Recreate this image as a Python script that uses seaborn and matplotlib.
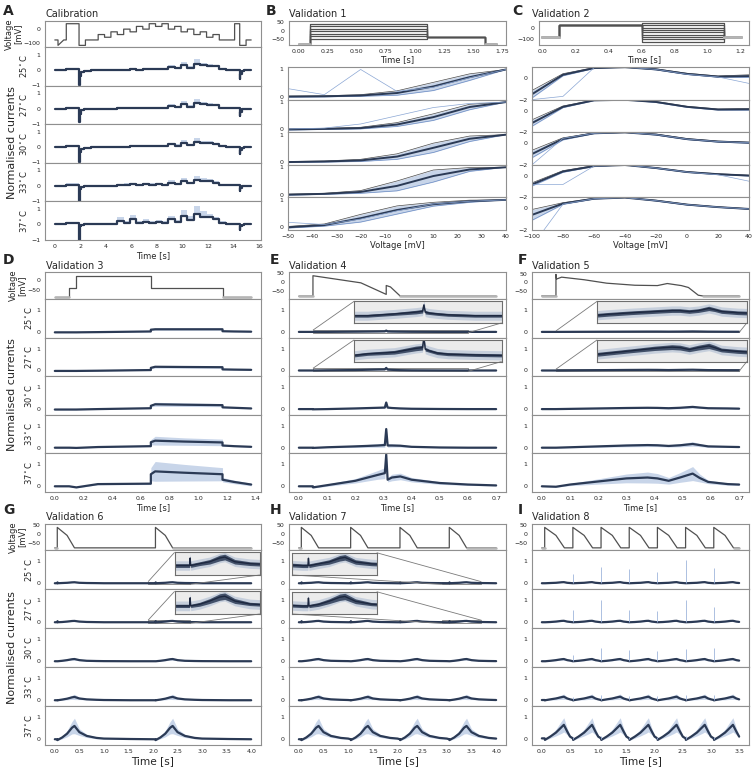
import matplotlib
matplotlib.use("Agg")
import matplotlib.pyplot as plt
import seaborn as sns
from mpl_toolkits.axes_grid1.inset_locator import mark_inset

# ---------------------------------------------------------------- data
TEMPS = [25, 27, 30, 33, 37]
TEMP_LABELS = ["25$^\\circ$C", "27$^\\circ$C", "30$^\\circ$C", "33$^\\circ$C", "37$^\\circ$C"]

# A: calibration staircase
A_PROTO_T = [0.0, 0.25, 0.25, 0.7, 0.9, 0.9, 1.9, 1.9, 2.4, 2.4,
             3.4, 3.4, 3.9, 3.9, 4.4, 4.4, 4.9, 4.9, 5.4, 5.4, 5.9, 5.9, 6.4, 6.4,
             6.9, 6.9, 7.4, 7.4, 7.9, 7.9, 8.4, 8.4, 8.9, 8.9, 9.4, 9.4, 9.9, 9.9,
             10.4, 10.4, 10.9, 10.9, 11.4, 11.4, 11.9, 11.9, 12.4, 12.4, 12.9, 12.9,
             14.1, 14.1, 14.5, 14.5, 15.0, 15.0, 15.4]
A_PROTO_V = [-80, -80, -120, -80, -80, 40, 40, -120, -120, -80,
             -80, -40, -40, -60, -60, -20, -20, -40, -40, 0, 0, -20, -20, 20,
             20, 0, 0, 40, 40, 20, 20, 40, 40, 0, 0, 20, 20, -20,
             -20, 0, 0, -40, -40, -20, -20, -60, -60, -40, -40, -80,
             -80, 40, 40, -120, -120, -80, -80]
A_T = [0.0, 0.9, 1.9, 1.95, 2.05, 2.3, 2.8, 4.9, 5.4, 5.9, 6.4, 6.9, 7.4, 7.9, 8.4,
       8.9, 9.4, 9.9, 10.4, 10.9, 11.4, 11.9, 12.4, 12.9, 13.4, 14.5, 14.55, 14.65, 14.8, 15.4]
A_MID = {
    25: [0.0, 0.05, -0.95, -0.4, -0.15, -0.04, 0.0, 0.01, 0.02, 0.04, 0.03, 0.05, 0.04, 0.06, 0.05,
         0.2, 0.1, 0.32, 0.12, 0.4, 0.3, 0.28, 0.26, 0.06, 0.02, -0.6, -0.25, -0.08, 0.0, 0.0],
    27: [0.0, 0.05, -0.9, -0.35, -0.12, -0.03, 0.0, 0.01, 0.03, 0.05, 0.04, 0.06, 0.05, 0.07, 0.06,
         0.2, 0.1, 0.3, 0.12, 0.38, 0.28, 0.26, 0.22, 0.06, 0.02, -0.5, -0.2, -0.06, 0.0, 0.0],
    30: [0.0, 0.05, -0.95, -0.3, -0.1, -0.03, 0.0, 0.02, 0.04, 0.06, 0.05, 0.08, 0.06, 0.09, 0.07,
         0.18, 0.1, 0.28, 0.12, 0.36, 0.27, 0.25, 0.2, 0.06, 0.02, -0.45, -0.2, -0.06, 0.0, 0.0],
    33: [0.0, 0.08, -1.0, -0.2, -0.06, -0.02, 0.0, 0.04, 0.08, 0.12, 0.08, 0.1, 0.08, 0.1, 0.08,
         0.2, 0.12, 0.3, 0.15, 0.4, 0.3, 0.28, 0.2, 0.08, 0.03, -0.35, -0.12, -0.03, 0.0, 0.0],
    37: [0.0, 0.08, -1.0, -0.1, -0.03, 0.0, 0.02, 0.25, 0.12, 0.38, 0.12, 0.18, 0.12, 0.18, 0.12,
         0.35, 0.15, 0.55, 0.3, 0.7, 0.5, 0.45, 0.32, 0.12, 0.02, -0.35, -0.1, -0.02, 0.0, 0.0],
}
A_HI = {
    25: [0.02, 0.1, -0.7, -0.2, -0.05, 0.0, 0.03, 0.04, 0.06, 0.08, 0.06, 0.1, 0.08, 0.12, 0.1,
         0.3, 0.18, 0.55, 0.25, 0.7, 0.45, 0.4, 0.35, 0.1, 0.05, -0.3, -0.1, -0.02, 0.02, 0.02],
    27: [0.02, 0.1, -0.6, -0.15, -0.04, 0.0, 0.03, 0.04, 0.07, 0.09, 0.07, 0.1, 0.08, 0.12, 0.1,
         0.32, 0.18, 0.5, 0.22, 0.62, 0.42, 0.38, 0.32, 0.1, 0.05, -0.25, -0.08, -0.02, 0.02, 0.02],
    30: [0.02, 0.1, -0.6, -0.12, -0.03, 0.0, 0.03, 0.05, 0.08, 0.1, 0.08, 0.14, 0.1, 0.15, 0.12,
         0.3, 0.2, 0.45, 0.22, 0.6, 0.42, 0.38, 0.3, 0.1, 0.05, -0.2, -0.08, -0.02, 0.02, 0.02],
    33: [0.02, 0.15, -0.6, -0.08, -0.02, 0.01, 0.03, 0.1, 0.15, 0.2, 0.14, 0.18, 0.15, 0.18, 0.14,
         0.35, 0.2, 0.5, 0.25, 0.65, 0.5, 0.42, 0.32, 0.12, 0.05, -0.1, -0.04, 0.0, 0.02, 0.02],
    37: [0.02, 0.18, -0.6, -0.02, 0.0, 0.02, 0.06, 0.5, 0.22, 0.62, 0.22, 0.32, 0.22, 0.3, 0.22,
         0.55, 0.3, 0.95, 0.55, 1.2, 0.85, 0.65, 0.45, 0.2, 0.05, -0.1, -0.02, 0.0, 0.02, 0.02],
}

# B: validation 1 (activation I-V)
B_LEVELS = [-50, -35, -20, -5, 10, 25, 40]
B_PROTO_T = [0.0, 0.1, 0.1, 1.1, 1.1, 1.6, 1.6, 1.7]
B_MID = {
    25: [0.01, 0.02, 0.05, 0.14, 0.38, 0.72, 1.0],
    27: [0.0, 0.02, 0.05, 0.18, 0.45, 0.82, 1.0],
    30: [0.0, 0.02, 0.06, 0.2, 0.52, 0.85, 1.0],
    33: [0.0, 0.03, 0.1, 0.32, 0.68, 0.92, 1.0],
    37: [0.0, 0.08, 0.33, 0.63, 0.84, 0.95, 1.0],
}
B_SPREAD = {
    25: [0.02, 0.02, 0.03, 0.08, 0.15, 0.12, 0.0],
    27: [0.02, 0.02, 0.03, 0.07, 0.12, 0.1, 0.0],
    30: [0.02, 0.02, 0.04, 0.1, 0.17, 0.1, 0.0],
    33: [0.02, 0.02, 0.05, 0.18, 0.22, 0.07, 0.0],
    37: [0.03, 0.04, 0.14, 0.15, 0.07, 0.04, 0.0],
}
B_ODD = {
    25: [0.3, 0.08, 1.0, 0.2, 0.35, 0.7, 1.0],
    27: [0.02, 0.05, 0.2, 0.5, 0.8, 0.95, 1.0],
    37: [0.18, 0.1, 0.3, 0.6, 0.85, 0.95, 1.0],
}

# C: validation 2 (inactivation I-V)
C_LEVELS = [-120, -100, -80, -60, -40, -20, 0, 20, 40]
C_PROTO_T = [0.0, 0.1, 0.1, 0.6, 0.6, 1.1, 1.1, 1.2]
C_MID = {
    25: [-3.5, -1.5, 0.3, 0.92, 1.0, 0.8, 0.38, 0.13, 0.18],
    27: [-3.0, -1.15, 0.35, 0.95, 1.0, 0.8, 0.35, 0.1, 0.12],
    30: [-2.8, -1.0, 0.4, 0.92, 1.0, 0.8, 0.38, 0.15, 0.05],
    33: [-2.5, -0.8, 0.4, 0.9, 1.0, 0.72, 0.35, 0.15, 0.02],
    37: [-2.2, -0.6, 0.45, 0.9, 1.0, 0.72, 0.35, 0.12, -0.05],
}
C_SPREAD = {
    25: [0.8, 0.35, 0.1, 0.04, 0.0, 0.05, 0.06, 0.06, 0.12],
    27: [0.6, 0.3, 0.08, 0.03, 0.0, 0.05, 0.05, 0.05, 0.08],
    30: [0.6, 0.35, 0.1, 0.04, 0.0, 0.05, 0.05, 0.05, 0.05],
    33: [0.5, 0.15, 0.08, 0.04, 0.0, 0.04, 0.04, 0.04, 0.04],
    37: [2.0, 0.5, 0.08, 0.04, 0.0, 0.04, 0.04, 0.03, 0.03],
}
C_ODD = {
    25: [-4.0, -2.0, -1.7, 0.95, 1.0, 0.8, 0.35, 0.1, -0.5],
    30: [-4.0, -2.0, 0.45, 0.92, 1.0, 0.8, 0.38, 0.15, 0.05],
    33: [-3.0, -0.8, -0.8, 0.9, 1.0, 0.72, 0.35, 0.1, -0.5],
    37: [-6.0, -3.5, 0.4, 0.9, 1.0, 0.72, 0.35, 0.12, -0.05],
}

# D: validation 3
D_PROTO_T = [0.0, 0.1, 0.1, 0.15, 0.15, 0.67, 0.67, 1.17, 1.17, 1.37]
D_PROTO_V = [-80, -80, -40, -40, 20, 20, -40, -40, -80, -80]
D_T = [0.0, 0.1, 0.15, 0.3, 0.67, 0.67, 0.7, 0.9, 1.17, 1.17, 1.25, 1.37]
D_MID = {
    25: [-0.02, -0.02, -0.02, -0.01, 0.02, 0.1, 0.12, 0.12, 0.12, 0.03, 0.02, 0.01],
    27: [-0.02, -0.02, -0.02, -0.01, 0.02, 0.12, 0.17, 0.16, 0.15, 0.05, 0.04, 0.03],
    30: [-0.02, -0.02, -0.02, 0.0, 0.04, 0.15, 0.22, 0.2, 0.18, 0.08, 0.06, 0.03],
    33: [0.0, 0.0, -0.01, 0.03, 0.07, 0.25, 0.32, 0.28, 0.24, 0.1, 0.07, 0.04],
    37: [0.0, 0.0, -0.05, 0.1, 0.12, 0.55, 0.68, 0.62, 0.55, 0.3, 0.2, 0.08],
}
D_SPREAD = {
    25: [0.01, 0.01, 0.01, 0.01, 0.01, 0.03, 0.04, 0.04, 0.04, 0.01, 0.01, 0.01],
    27: [0.01, 0.01, 0.01, 0.01, 0.01, 0.04, 0.06, 0.05, 0.05, 0.015, 0.01, 0.01],
    30: [0.01, 0.01, 0.01, 0.01, 0.015, 0.05, 0.09, 0.08, 0.07, 0.02, 0.015, 0.01],
    33: [0.01, 0.01, 0.01, 0.015, 0.02, 0.12, 0.2, 0.17, 0.15, 0.03, 0.02, 0.015],
    37: [0.01, 0.01, 0.02, 0.03, 0.04, 0.3, 0.45, 0.38, 0.3, 0.1, 0.08, 0.06],
}

# E: validation 4
E_PROTO_T = [0.0, 0.05, 0.05, 0.22, 0.31, 0.31, 0.325, 0.36, 0.7]
E_PROTO_V = [-80, -80, 35, -5, -70, -20, -28, -80, -80]
E_T = [0.0, 0.05, 0.05, 0.1, 0.2, 0.28, 0.305, 0.31, 0.315, 0.33, 0.36, 0.4, 0.5, 0.6, 0.7]
E_MID = {
    25: [0.0, 0.0, 0.0, 0.0, 0.01, 0.02, 0.025, 0.06, 0.02, 0.015, 0.01, 0.005, 0.0, 0.0, 0.0],
    27: [0.0, 0.0, 0.0, 0.01, 0.02, 0.045, 0.05, 0.12, 0.04, 0.03, 0.015, 0.008, 0.003, 0.0, 0.0],
    30: [0.0, 0.0, -0.01, 0.0, 0.03, 0.06, 0.07, 0.3, 0.07, 0.05, 0.03, 0.015, 0.005, 0.0, 0.0],
    33: [0.0, 0.0, -0.01, 0.02, 0.06, 0.1, 0.12, 0.85, 0.1, 0.1, 0.09, 0.04, 0.01, 0.0, 0.0],
    37: [0.0, 0.0, -0.05, 0.05, 0.25, 0.52, 0.6, 1.45, 0.3, 0.4, 0.45, 0.3, 0.15, 0.08, 0.04],
}
E_SPREAD = {
    25: [0.008, 0.008, 0.008, 0.008, 0.008, 0.01, 0.01, 0.01, 0.01, 0.008, 0.008, 0.008, 0.008, 0.008, 0.008],
    27: [0.01, 0.01, 0.01, 0.01, 0.012, 0.015, 0.015, 0.015, 0.012, 0.01, 0.01, 0.01, 0.01, 0.01, 0.01],
    30: [0.01, 0.01, 0.01, 0.01, 0.02, 0.03, 0.03, 0.05, 0.03, 0.02, 0.02, 0.01, 0.01, 0.01, 0.01],
    33: [0.01, 0.01, 0.01, 0.02, 0.05, 0.08, 0.1, 0.1, 0.08, 0.07, 0.06, 0.03, 0.01, 0.01, 0.01],
    37: [0.01, 0.02, 0.03, 0.05, 0.1, 0.2, 0.25, 0.1, 0.1, 0.15, 0.15, 0.1, 0.06, 0.04, 0.02],
}

# F: validation 5
F_PROTO_T = [0.0, 0.05, 0.05, 0.052, 0.07, 0.15, 0.23, 0.33, 0.41, 0.445, 0.495, 0.52, 0.555, 0.57, 0.7]
F_PROTO_V = [-80, -80, 45, 18, 29, 14, -6, -18, -20, -8, -20, -31, -76, -80, -80]
F_T = [0.0, 0.05, 0.1, 0.2, 0.3, 0.375, 0.41, 0.45, 0.49, 0.535, 0.56, 0.59, 0.66, 0.7]
F_MID = {
    25: [0.0, 0.0, 0.003, 0.008, 0.012, 0.015, 0.015, 0.012, 0.015, 0.022, 0.018, 0.012, 0.008, 0.007],
    27: [0.0, 0.0, 0.005, 0.015, 0.025, 0.03, 0.028, 0.02, 0.028, 0.035, 0.028, 0.018, 0.012, 0.01],
    30: [0.0, 0.0, 0.01, 0.03, 0.05, 0.06, 0.055, 0.04, 0.06, 0.1, 0.07, 0.04, 0.03, 0.02],
    33: [0.0, 0.0, 0.02, 0.06, 0.1, 0.12, 0.11, 0.08, 0.11, 0.17, 0.12, 0.06, 0.04, 0.03],
    37: [0.0, -0.02, 0.08, 0.22, 0.36, 0.4, 0.36, 0.25, 0.4, 0.58, 0.38, 0.2, 0.1, 0.08],
}
F_SPREAD = {
    25: [0.006, 0.006, 0.006, 0.006, 0.006, 0.006, 0.006, 0.006, 0.006, 0.007, 0.006, 0.006, 0.006, 0.006],
    27: [0.008, 0.008, 0.008, 0.008, 0.009, 0.01, 0.01, 0.009, 0.01, 0.011, 0.01, 0.008, 0.008, 0.008],
    30: [0.005, 0.005, 0.01, 0.02, 0.03, 0.03, 0.03, 0.03, 0.04, 0.05, 0.04, 0.02, 0.015, 0.01],
    33: [0.005, 0.01, 0.02, 0.04, 0.06, 0.07, 0.06, 0.05, 0.07, 0.1, 0.07, 0.04, 0.02, 0.02],
    37: [0.01, 0.02, 0.05, 0.12, 0.2, 0.25, 0.22, 0.15, 0.22, 0.32, 0.18, 0.08, 0.05, 0.04],
}

AP_T = [0.0, 0.0, 0.2, 0.35]
AP_V = [-80, 35, -10, -80]
G_ONSETS = [0.05, 2.05]
H_ONSETS = [0.05, 1.05, 2.05, 3.05]
I_ONSETS = [0.05, 0.55, 1.05, 1.55, 2.05, 2.55, 3.05]
G_BEAT_T = [0.0, 0.005, 0.01, 0.1, 0.2, 0.3, 0.35, 0.45, 0.6, 0.8, 0.95, 1.5, 1.95]
G_MID = {
    25: [0.0, 0.04, 0.0, 0.01, 0.02, 0.04, 0.045, 0.02, 0.01, 0.005, 0.0, 0.0, 0.0],
    27: [0.0, 0.05, 0.0, 0.01, 0.03, 0.055, 0.06, 0.03, 0.012, 0.005, 0.0, 0.0, 0.0],
    30: [0.0, 0.0, 0.0, 0.02, 0.05, 0.09, 0.1, 0.05, 0.02, 0.01, 0.005, 0.0, 0.0],
    33: [0.0, -0.01, 0.0, 0.03, 0.07, 0.13, 0.15, 0.08, 0.04, 0.02, 0.01, 0.0, 0.0],
    37: [0.0, -0.04, -0.03, 0.08, 0.25, 0.52, 0.6, 0.32, 0.15, 0.06, 0.03, 0.01, 0.0],
}
G_SPREAD = {
    25: [0.01, 0.01, 0.01, 0.01, 0.012, 0.015, 0.015, 0.012, 0.01, 0.01, 0.01, 0.01, 0.01],
    27: [0.01, 0.01, 0.01, 0.012, 0.015, 0.02, 0.02, 0.015, 0.01, 0.01, 0.01, 0.01, 0.01],
    30: [0.01, 0.01, 0.01, 0.015, 0.025, 0.04, 0.05, 0.025, 0.015, 0.01, 0.01, 0.01, 0.01],
    33: [0.01, 0.01, 0.01, 0.02, 0.05, 0.09, 0.12, 0.05, 0.02, 0.01, 0.01, 0.01, 0.01],
    37: [0.01, 0.01, 0.02, 0.06, 0.14, 0.28, 0.35, 0.15, 0.07, 0.04, 0.02, 0.01, 0.01],
}
I_BEAT_T = [0.0, 0.005, 0.01, 0.1, 0.2, 0.3, 0.34, 0.4, 0.45]
I_MID = {
    25: [0.0, 0.0, 0.0, 0.01, 0.02, 0.045, 0.05, 0.02, 0.01],
    27: [0.0, 0.0, 0.0, 0.01, 0.03, 0.06, 0.065, 0.03, 0.015],
    30: [0.0, 0.0, 0.0, 0.02, 0.05, 0.09, 0.1, 0.05, 0.03],
    33: [0.01, -0.01, 0.0, 0.04, 0.08, 0.14, 0.16, 0.08, 0.04],
    37: [0.04, -0.03, -0.02, 0.12, 0.3, 0.55, 0.65, 0.35, 0.12],
}
I_SPREAD = {
    25: [0.01, 0.01, 0.01, 0.01, 0.012, 0.015, 0.015, 0.012, 0.01],
    27: [0.01, 0.01, 0.01, 0.012, 0.015, 0.02, 0.02, 0.015, 0.01],
    30: [0.01, 0.01, 0.01, 0.015, 0.025, 0.04, 0.05, 0.025, 0.015],
    33: [0.01, 0.01, 0.01, 0.03, 0.06, 0.1, 0.12, 0.05, 0.02],
    37: [0.02, 0.02, 0.02, 0.07, 0.15, 0.28, 0.32, 0.15, 0.06],
}
I_SPIKE_T = [0.55, 1.05, 1.55, 2.05, 2.55, 3.05]
I_SPIKE = {
    25: [0.4, 0.75, 0.65, 0.5, 1.05, 0.7],
    27: [0.55, 1.0, 0.55, 0.5, 1.0, 0.7],
    30: [0.3, 0.6, 0.5, 0.45, 0.55, 0.6],
    33: [0.15, 0.25, 0.2, 0.2, 0.25, 0.25],
    37: [0.1, 0.15, 0.1, 0.1, 0.15, 0.1],
}

# ---------------------------------------------------------------- style
sns.set_theme(style="white")
plt.rcParams["font.family"] = ["DejaVu Sans"]

SPINE = "#8f8f8f"
DARK = "#2b3a55"
BLUE = "#86a2cf"
PROTO = "#505050"
HOLD = "#b5b5b5"
FIG_W, FIG_H = 756, 770
COL = {1: (45, 261), 2: (289, 506), 3: (532, 749)}


def px_axes(fig, left, top, right, bottom):
    return fig.add_axes([left / FIG_W, 1 - bottom / FIG_H,
                         (right - left) / FIG_W, (bottom - top) / FIG_H])


def tidy(ax, yticks, ylim, xlim, xticks=None):
    ax.set_xlim(xlim)
    ax.set_ylim(ylim)
    ax.set_yticks(yticks)
    if xticks is None:
        ax.tick_params(axis="x", bottom=False, labelbottom=False)
    else:
        ax.set_xticks(xticks)
    ax.tick_params(labelsize=4.5, length=2, width=0.5, pad=1.2,
                   color=SPINE, labelcolor="#262626")
    for spine in ax.spines.values():
        spine.set_color(SPINE)
        spine.set_linewidth(0.8)
    ax.grid(False)


def line(ax, x, y, **kw):
    sns.lineplot(x=x, y=y, ax=ax, estimator=None, sort=False, legend=False, **kw)


def band(mid, spread):
    return [m - s for m, s in zip(mid, spread)], [m + s for m, s in zip(mid, spread)]


def draw_protocol(ax, t, v, hold=True):
    line(ax, t, v, color=PROTO, lw=0.9)
    if hold:
        line(ax, t[:2], v[:2], color=HOLD, lw=1.8)
        line(ax, t[-2:], v[-2:], color=HOLD, lw=1.8)


def ap_train(onsets, end):
    t, v = [0.0], [-80]
    for on in onsets:
        t += [on + a for a in AP_T]
        v += AP_V
    return t + [end], v + [-80]


def beat_train(onsets, end, beat_t, vals):
    t, y = [0.0], [vals[0]]
    for on in onsets:
        t += [on + b for b in beat_t]
        y += list(vals)
    return t + [end], y + [vals[-1]]


def trace_stack(fig, col, top, bottom, series, xlim, xticks, ylim, yticks,
                xlabel_size=6, steps=False, label_temps=False):
    left, right = COL[col]
    h = (bottom - top) / len(TEMPS)
    axes = []
    for i, temp in enumerate(TEMPS):
        t, lo, hi, mid = series[temp]
        ax = px_axes(fig, left, top + i * h, right, top + (i + 1) * h)
        ax.fill_between(t, lo, hi, color=BLUE, alpha=0.45, lw=0,
                        step="post" if steps else None)
        line(ax, t, mid, color=DARK, lw=1.6,
             drawstyle="steps-post" if steps else "default")
        last = i == len(TEMPS) - 1
        tidy(ax, yticks, ylim, xlim, xticks if last else None)
        if label_temps:
            ax.set_ylabel(TEMP_LABELS[i], fontsize=6, labelpad=2)
        if last:
            ax.set_xlabel("Time [s]", fontsize=xlabel_size, labelpad=1)
        axes.append(ax)
    return axes


def iv_stack(fig, left, right, top, bottom, volts, mids, spreads, odd,
             xlim, xticks, ylim, yticks):
    h = (bottom - top) / len(TEMPS)
    for i, temp in enumerate(TEMPS):
        ax = px_axes(fig, left, top + i * h, right, top + (i + 1) * h)
        lo, hi = band(mids[temp], spreads[temp])
        ax.fill_between(volts, lo, hi, color=BLUE, alpha=0.45, lw=0)
        line(ax, volts, lo, color="#6b8cc4", lw=0.5)
        line(ax, volts, hi, color="#4a4a4a", lw=0.5)
        line(ax, volts, mids[temp], color=DARK, lw=1.4)
        if temp in odd:
            line(ax, volts, odd[temp], color="#8aa6d4", lw=0.5)
        last = i == len(TEMPS) - 1
        tidy(ax, yticks, ylim, xlim, xticks if last else None)
        if last:
            ax.set_xlabel("Voltage [mV]", fontsize=6, labelpad=1)


def zoom_inset(ax, rect, t, mid, spread, noise, xlim, ylim, locs):
    ins = ax.inset_axes(rect)
    ins.set_facecolor("#ececec")
    lo_n, hi_n = band(mid, [noise] * len(mid))
    ins.fill_between(t, lo_n, hi_n, color="#b7c3d6", alpha=0.7, lw=0)
    lo, hi = band(mid, spread)
    ins.fill_between(t, lo, hi, color=DARK, alpha=0.85, lw=0)
    line(ins, t, mid, color="#1d2840", lw=1.0)
    ins.set_xlim(xlim)
    ins.set_ylim(ylim)
    ins.set_xticks([])
    ins.set_yticks([])
    ins.grid(False)
    for spine in ins.spines.values():
        spine.set_color("#6e6e6e")
        spine.set_linewidth(0.8)
    mark_inset(ax, ins, loc1=locs[0], loc2=locs[1], fc="none", ec="#7a7a7a", lw=0.6)


def sym_series(t, mids, spreads):
    out = {}
    for temp in TEMPS:
        lo, hi = band(mids[temp], spreads[temp])
        out[temp] = (t, lo, hi, mids[temp])
    return out


def train_series(onsets, end, beat_t, mids, spreads):
    out = {}
    for temp in TEMPS:
        t, mid = beat_train(onsets, end, beat_t, mids[temp])
        _, spr = beat_train(onsets, end, beat_t, spreads[temp])
        lo, hi = band(mid, spr)
        out[temp] = (t, lo, hi, mid)
    return out


fig = plt.figure(figsize=(7.56, 7.70), dpi=100)
CUR_TICKS = [0, 1]
CUR_LIM = (-0.26, 1.5)

# ---- A
A_XLIM = (-0.77, 16.17)
ax = px_axes(fig, 45, 21, 261, 47)
draw_protocol(ax, A_PROTO_T, A_PROTO_V, hold=False)
tidy(ax, [0, -100], (-132, 60), A_XLIM)
ax.set_ylabel("Voltage\n[mV]", fontsize=6, labelpad=1, linespacing=0.95)
a_series = {temp: (A_T, A_MID[temp], A_HI[temp], A_MID[temp]) for temp in TEMPS}
trace_stack(fig, 1, 47, 240, a_series, A_XLIM, list(range(0, 17, 2)),
            (-1.02, 1.5), [-1, 0, 1], steps=True, label_temps=True)

# ---- B
ax = px_axes(fig, 289, 21, 506, 45)
for level in B_LEVELS:
    draw_protocol(ax, B_PROTO_T, [-80, -80, level, level, -40, -40, -80, -80])
tidy(ax, [50, 0, -50], (-88, 58), (-0.085, 1.785),
     [0.0, 0.25, 0.5, 0.75, 1.0, 1.25, 1.5, 1.75])
ax.set_xlabel("Time [s]", fontsize=6, labelpad=0.5)
iv_stack(fig, 288, 506, 67, 230, B_LEVELS, B_MID, B_SPREAD, B_ODD,
         (-50, 40), list(range(-50, 41, 10)), (-0.1, 1.09), [0, 1])

# ---- C
ax = px_axes(fig, 539, 21, 749, 45)
for level in C_LEVELS:
    draw_protocol(ax, C_PROTO_T, [-80, -80, 20, 20, level, level, -80, -80])
tidy(ax, [0, -100], (-148, 55), (-0.02, 1.25), [0.0, 0.2, 0.4, 0.6, 0.8, 1.0, 1.2])
ax.set_xlabel("Time [s]", fontsize=6, labelpad=0.5)
iv_stack(fig, 532, 749, 67, 230, C_LEVELS, C_MID, C_SPREAD, C_ODD,
         (-100, 40), list(range(-100, 41, 20)), (-2.0, 1.02), [0, -2])

# ---- D
D_XLIM = (-0.0685, 1.4385)
ax = px_axes(fig, 45, 272, 261, 299)
draw_protocol(ax, D_PROTO_T, D_PROTO_V)
tidy(ax, [0, -50], (-92, 39), D_XLIM)
ax.set_ylabel("Voltage\n[mV]", fontsize=6, labelpad=1, linespacing=0.95)
trace_stack(fig, 1, 299, 492, sym_series(D_T, D_MID, D_SPREAD), D_XLIM,
            [0.0, 0.2, 0.4, 0.6, 0.8, 1.0, 1.2, 1.4], CUR_LIM, CUR_TICKS, label_temps=True)

# ---- E
EF_XLIM = (-0.035, 0.735)
EF_TICKS = [0.0, 0.1, 0.2, 0.3, 0.4, 0.5, 0.6, 0.7]
ax = px_axes(fig, 289, 272, 506, 299)
draw_protocol(ax, E_PROTO_T, E_PROTO_V)
tidy(ax, [50, 0, -50], (-96, 56), EF_XLIM)
e_axes = trace_stack(fig, 2, 299, 492, sym_series(E_T, E_MID, E_SPREAD), EF_XLIM,
                     EF_TICKS, CUR_LIM, CUR_TICKS)
zoom_inset(e_axes[0], [0.30, 0.38, 0.68, 0.56], E_T, E_MID[25], E_SPREAD[25], 0.025,
           (0.05, 0.6), (-0.04, 0.08), (2, 4))
zoom_inset(e_axes[1], [0.30, 0.38, 0.68, 0.56], E_T, E_MID[27], E_SPREAD[27], 0.03,
           (0.05, 0.6), (-0.04, 0.1), (2, 4))

# ---- F
ax = px_axes(fig, 532, 272, 749, 299)
draw_protocol(ax, F_PROTO_T, F_PROTO_V)
tidy(ax, [50, 0, -50], (-98, 59), EF_XLIM)
f_axes = trace_stack(fig, 3, 299, 492, sym_series(F_T, F_MID, F_SPREAD), EF_XLIM,
                     EF_TICKS, CUR_LIM, CUR_TICKS)
zoom_inset(f_axes[0], [0.30, 0.38, 0.69, 0.56], F_T, F_MID[25], F_SPREAD[25], 0.015,
           (0.05, 0.7), (-0.025, 0.045), (2, 4))
zoom_inset(f_axes[1], [0.30, 0.38, 0.69, 0.56], F_T, F_MID[27], F_SPREAD[27], 0.02,
           (0.05, 0.7), (-0.03, 0.06), (2, 4))

# ---- G
GH_XLIM = (-0.2, 4.2)
GH_TICKS = [0.0, 0.5, 1.0, 1.5, 2.0, 2.5, 3.0, 3.5, 4.0]
ax = px_axes(fig, 45, 524, 261, 550)
pt, pv = ap_train(G_ONSETS, 4.0)
draw_protocol(ax, pt, pv)
tidy(ax, [50, 0, -50], (-92, 54), GH_XLIM)
ax.set_ylabel("Voltage\n[mV]", fontsize=6, labelpad=1, linespacing=0.95)
g_series = train_series(G_ONSETS, 4.0, G_BEAT_T, G_MID, G_SPREAD)
g_axes = trace_stack(fig, 1, 550, 745, g_series, GH_XLIM, GH_TICKS, CUR_LIM, CUR_TICKS,
                     xlabel_size=7.6, label_temps=True)
for k, temp in enumerate([25, 27]):
    t, lo, hi, mid = g_series[temp]
    spr = [h - m for h, m in zip(hi, mid)]
    zoom_inset(g_axes[k], [0.60, 0.36, 0.395, 0.58], t, mid, spr, 0.025 + 0.005 * k,
               (1.9, 2.75), (-0.05, 0.07 + 0.02 * k), (2, 4))

# ---- H
ax = px_axes(fig, 289, 524, 506, 550)
pt, pv = ap_train(H_ONSETS, 4.0)
draw_protocol(ax, pt, pv)
tidy(ax, [50, 0, -50], (-92, 54), GH_XLIM)
h_mid = {temp: G_MID[temp][:11] for temp in TEMPS}
h_spr = {temp: G_SPREAD[temp][:11] for temp in TEMPS}
h_series = train_series(H_ONSETS, 4.0, G_BEAT_T[:11], h_mid, h_spr)
h_axes = trace_stack(fig, 2, 550, 745, h_series, GH_XLIM, GH_TICKS, CUR_LIM, CUR_TICKS,
                     xlabel_size=7.6)
for k, temp in enumerate([25, 27]):
    t, lo, hi, mid = h_series[temp]
    spr = [h - m for h, m in zip(hi, mid)]
    zoom_inset(h_axes[k], [0.014, 0.36, 0.39, 0.57], t, mid, spr, 0.025 + 0.005 * k,
               (2.9, 3.7), (-0.05, 0.07 + 0.02 * k), (1, 3))

# ---- I
I_XLIM = (-0.175, 3.675)
ax = px_axes(fig, 532, 524, 749, 550)
pt, pv = ap_train(I_ONSETS, 3.5)
draw_protocol(ax, pt, pv)
tidy(ax, [50, 0, -50], (-92, 54), I_XLIM)
i_series = train_series(I_ONSETS, 3.5, I_BEAT_T, I_MID, I_SPREAD)
i_axes = trace_stack(fig, 3, 550, 745, i_series, I_XLIM,
                     [0.0, 0.5, 1.0, 1.5, 2.0, 2.5, 3.0, 3.5], CUR_LIM, CUR_TICKS,
                     xlabel_size=7.6)
for ax, temp in zip(i_axes, TEMPS):
    ax.vlines(I_SPIKE_T, 0, I_SPIKE[temp], color="#9fb5dc", lw=0.6)

# ---- labels
for letter, x, y in [("A", 3, 4), ("B", 266, 4), ("C", 512, 4),
                     ("D", 3, 253), ("E", 270, 253), ("F", 518, 253),
                     ("G", 3, 503), ("H", 270, 503), ("I", 518, 503)]:
    fig.text(x / FIG_W, 1 - y / FIG_H, letter, fontsize=10, weight="bold", va="top")
for title, x, y in [("Calibration", 45, 14), ("Validation 1", 289, 14), ("Validation 2", 532, 14),
                    ("Validation 3", 46, 266), ("Validation 4", 289, 266), ("Validation 5", 532, 266),
                    ("Validation 6", 46, 517), ("Validation 7", 289, 517), ("Validation 8", 532, 517)]:
    fig.text(x / FIG_W, 1 - y / FIG_H, title, fontsize=7, va="center")
for y in [143, 395, 648]:
    fig.text(12 / FIG_W, 1 - y / FIG_H, "Normalised currents", fontsize=8,
             rotation=90, ha="center", va="center")

fig.savefig("out.png", dpi=100)
